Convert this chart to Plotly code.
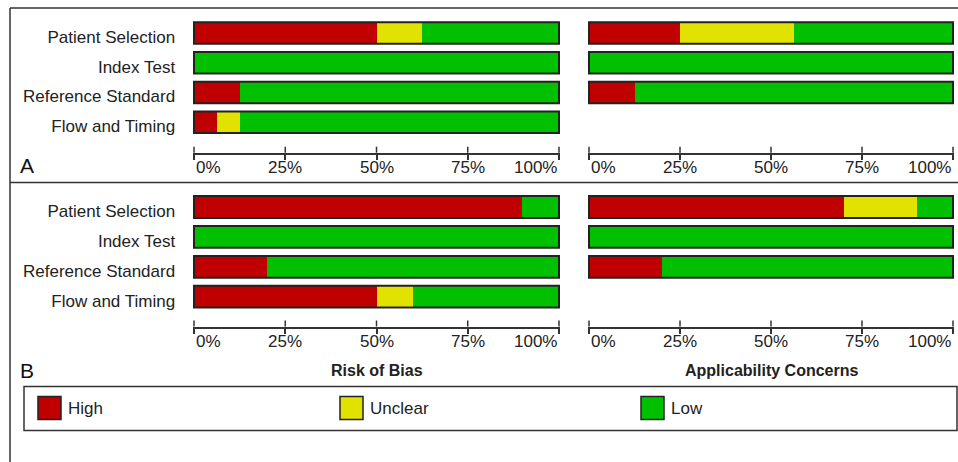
import plotly.graph_objects as go

# ---------------- data ----------------
rows = ["Patient Selection", "Index Test", "Reference Standard", "Flow and Timing"]
levels = ["High", "Unclear", "Low"]
level_colors = ["#C00000", "#E2E200", "#00C000"]

# Panel A - Risk of Bias (4 domains)
a_rob_high = [50, 0, 12.5, 6.25]
a_rob_unclear = [12.5, 0, 0, 6.25]
a_rob_low = [37.5, 100, 87.5, 87.5]
# Panel A - Applicability Concerns (3 domains)
a_app_high = [25, 0, 12.5]
a_app_unclear = [31.25, 0, 0]
a_app_low = [43.75, 100, 87.5]
# Panel B - Risk of Bias
b_rob_high = [90, 0, 20, 50]
b_rob_unclear = [0, 0, 0, 10]
b_rob_low = [10, 100, 80, 40]
# Panel B - Applicability Concerns
b_app_high = [70, 0, 20]
b_app_unclear = [20, 0, 0]
b_app_low = [10, 100, 80]

tick_vals = [0, 25, 50, 75, 100]
tick_text = ["0%", "25%", "50%", "75%", "100%"]
section_titles = ["Risk of Bias", "Applicability Concerns"]
panel_letters = ["A", "B"]

# ---------------- layout helpers ----------------
W, H = 958, 462
FONT = "Liberation Sans, Arial, sans-serif"
TXT = "#222222"
LINE = "#333333"


def px(x):
    return x / W


def py(y):
    return 1 - y / H


PAD = 0.4  # small range padding so the bar outline is not clipped
cols = [(194, 559), (589, 953)]
panels = [
    dict(first=33.0, step=29.75, axis=152.7, top=18.0, label_y=167.0, letter_y=166.0),
    dict(first=207.0, step=29.9, axis=326.5, top=192.0, label_y=341.0, letter_y=370.0),
]
panel_data = [
    [(a_rob_high, a_rob_unclear, a_rob_low), (a_app_high, a_app_unclear, a_app_low)],
    [(b_rob_high, b_rob_unclear, b_rob_low), (b_app_high, b_app_unclear, b_app_low)],
]

fig = go.Figure()
layout = {}
shapes = []
annotations = []

n = 0
for pi, pan in enumerate(panels):
    r_top = -(pan["first"] - pan["top"]) / pan["step"]
    r_bot = (pan["axis"] - pan["first"]) / pan["step"]
    for ci, (x0p, x1p) in enumerate(cols):
        n += 1
        xa = "x" if n == 1 else f"x{n}"
        ya = "y" if n == 1 else f"y{n}"
        xkey = "xaxis" if n == 1 else f"xaxis{n}"
        ykey = "yaxis" if n == 1 else f"yaxis{n}"
        unit = (x1p - x0p) / 100.0
        layout[xkey] = dict(
            domain=[px(x0p - PAD * unit), px(x1p + PAD * unit)],
            range=[-PAD, 100 + PAD],
            anchor=ya,
            showline=True, linecolor=LINE, linewidth=1.5,
            ticks="outside", ticklen=6, tickwidth=1.5, tickcolor=LINE,
            tickvals=tick_vals, showticklabels=False,
            showgrid=False, zeroline=False, fixedrange=True,
        )
        vals = panel_data[pi][ci]
        nrows = len(vals[0])
        yidx = list(range(nrows))
        layout[ykey] = dict(
            domain=[py(pan["axis"]), py(pan["top"])],
            range=[r_bot, r_top],
            anchor=xa,
            tickvals=list(range(len(rows))),
            ticktext=rows,
            showticklabels=(ci == 0),
            ticks="outside" if ci == 0 else "",
            ticklen=13, tickcolor="rgba(0,0,0,0)",
            ticklabelshift=-4,
            tickfont=dict(family=FONT, size=17, color=TXT),
            showgrid=False, zeroline=False, showline=False, fixedrange=True,
        )
        for li, lev in enumerate(levels):
            fig.add_trace(go.Bar(
                x=vals[li], y=yidx, orientation="h", name=lev,
                marker=dict(color=level_colors[li], line=dict(width=0)),
                width=0.73, xaxis=xa, yaxis=ya, showlegend=False,
            ))
        # outline around each whole bar
        for i in yidx:
            shapes.append(dict(
                type="rect", xref=xa, yref=ya, x0=0, x1=100,
                y0=i - 0.365, y1=i + 0.365,
                line=dict(color="#222222", width=2), fillcolor="rgba(0,0,0,0)",
                layer="above",
            ))
        # upper half of the tick marks (ticks cross the axis line)
        dom_px = pan["axis"] - pan["top"]
        for v in tick_vals:
            shapes.append(dict(
                type="line", xref=xa, yref=f"{ya} domain", x0=v, x1=v,
                y0=0, y1=6.0 / dom_px, line=dict(color=LINE, width=1.5),
            ))
        # tick labels: ends aligned inside, middle centred
        for v, t in zip(tick_vals, tick_text):
            anchor = "left" if v == tick_vals[0] else ("right" if v == tick_vals[-1] else "center")
            annotations.append(dict(
                x=v, xref=xa, y=py(pan["label_y"]), yref="paper",
                text=t, showarrow=False, xanchor=anchor, yanchor="middle",
                font=dict(family=FONT, size=17, color=TXT),
            ))
        if pi == len(panels) - 1:
            annotations.append(dict(
                x=0.5, xref=f"{xa} domain", y=py(370), yref="paper",
                text=f"<b>{section_titles[ci]}</b>", showarrow=False,
                xanchor="center", yanchor="middle",
                font=dict(family=FONT, size=16, color=TXT),
            ))
    annotations.append(dict(
        x=px(18), y=py(pan["letter_y"]), xref="paper", yref="paper",
        text=panel_letters[pi], showarrow=False, xanchor="left", yanchor="middle",
        font=dict(family=FONT, size=21, color="#111111"),
    ))

# frame lines
for (x0, y0, x1, y1) in [(10, 8, 958, 8), (10, 8, 10, 462), (10, 182.5, 958, 182.5)]:
    shapes.append(dict(type="line", xref="paper", yref="paper",
                       x0=px(x0), x1=px(x1), y0=py(y0), y1=py(y1),
                       line=dict(color=LINE, width=1.5)))

# legend box
shapes.append(dict(type="rect", xref="paper", yref="paper",
                   x0=px(24), x1=px(957), y0=py(430.5), y1=py(386.5),
                   line=dict(color=LINE, width=1.5), fillcolor="rgba(0,0,0,0)"))
legend_x = [38, 340, 641]
for lx, lev, col in zip(legend_x, levels, level_colors):
    shapes.append(dict(type="rect", xref="paper", yref="paper",
                       x0=px(lx), x1=px(lx + 23), y0=py(419.5), y1=py(396.5),
                       line=dict(color="#222222", width=1.5), fillcolor=col))
    annotations.append(dict(
        x=px(lx + 28), y=py(408), xref="paper", yref="paper", text=lev,
        showarrow=False, xanchor="left", yanchor="middle",
        font=dict(family=FONT, size=17, color=TXT),
    ))

fig.update_layout(
    width=W, height=H,
    margin=dict(l=0, r=0, t=0, b=0),
    paper_bgcolor="white", plot_bgcolor="rgba(0,0,0,0)",
    barmode="stack", showlegend=False,
    shapes=shapes, annotations=annotations,
    font=dict(family=FONT, color=TXT),
    **layout,
)

fig.write_html("out.html")
